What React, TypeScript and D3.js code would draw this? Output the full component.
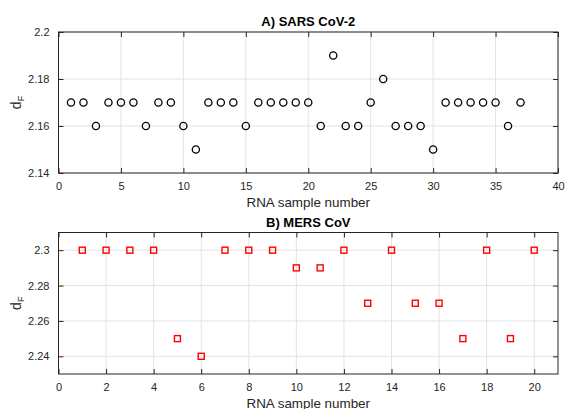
import React, { useEffect, useRef } from 'react';
import * as d3 from 'd3';

// SARS CoV-2 fractal dimension per sample
const sarsSamples = d3.range(1, 38);
const sarsValues = [
  2.17, 2.17, 2.16, 2.17, 2.17, 2.17, 2.16, 2.17, 2.17, 2.16,
  2.15, 2.17, 2.17, 2.17, 2.16, 2.17, 2.17, 2.17, 2.17, 2.17,
  2.16, 2.19, 2.16, 2.16, 2.17, 2.18, 2.16, 2.16, 2.16, 2.15,
  2.17, 2.17, 2.17, 2.17, 2.17, 2.16, 2.17,
];

// MERS CoV fractal dimension per sample
const mersSamples = d3.range(1, 21);
const mersValues = [
  2.3, 2.3, 2.3, 2.3, 2.25, 2.24, 2.3, 2.3, 2.3, 2.29,
  2.29, 2.3, 2.27, 2.3, 2.27, 2.27, 2.25, 2.3, 2.25, 2.3,
];

const sarsXTicks = [0, 5, 10, 15, 20, 25, 30, 35, 40];
const sarsYTicks = [2.14, 2.16, 2.18, 2.2];
const mersXTicks = [0, 2, 4, 6, 8, 10, 12, 14, 16, 18, 20];
const mersYTicks = [2.24, 2.26, 2.28, 2.3];

function App() {
  const ref = useRef<SVGSVGElement>(null);

  useEffect(() => {
    if (!ref.current) return;
    const svg = d3.select(ref.current);
    svg.selectAll('*').remove();

    const font = 'Liberation Sans, Arial, sans-serif';
    const left = 58.5;
    const right = 558;

    const panel = (
      top: number,
      bottom: number,
      xDomain: [number, number],
      yDomain: [number, number],
      xTicks: number[],
      yTicks: number[],
      xs: number[],
      ys: number[],
      title: string,
      marker: 'circle' | 'square',
    ) => {
      const x = d3.scaleLinear().domain(xDomain).range([left, right]);
      const y = d3.scaleLinear().domain(yDomain).range([bottom, top]);
      const g = svg.append('g');

      // grid
      g.selectAll('.gx')
        .data(xTicks)
        .enter()
        .append('line')
        .attr('x1', (d) => x(d))
        .attr('x2', (d) => x(d))
        .attr('y1', top)
        .attr('y2', bottom)
        .attr('stroke', '#e3e3e3')
        .attr('stroke-width', 1);
      g.selectAll('.gy')
        .data(yTicks)
        .enter()
        .append('line')
        .attr('x1', left)
        .attr('x2', right)
        .attr('y1', (d) => y(d))
        .attr('y2', (d) => y(d))
        .attr('stroke', '#e3e3e3')
        .attr('stroke-width', 1);

      // axes (ticks inward, mirrored)
      const tick = 5;
      const axisStyle = (a: d3.Selection<SVGGElement, unknown, null, undefined>) => {
        a.select('.domain').remove();
        a.selectAll('line').attr('stroke', '#262626');
        a.selectAll('text')
          .attr('fill', '#262626')
          .style('font-family', font)
          .style('font-size', '11px');
      };
      const bx = g.append('g').attr('transform', `translate(0,${bottom})`)
        .call(d3.axisBottom(x).tickValues(xTicks).tickFormat(d3.format('d')).tickSizeInner(-tick).tickSizeOuter(0).tickPadding(9));
      axisStyle(bx);
      const tx = g.append('g').attr('transform', `translate(0,${top})`)
        .call(d3.axisTop(x).tickValues(xTicks).tickFormat(() => '').tickSizeInner(-tick).tickSizeOuter(0));
      axisStyle(tx);
      const ly = g.append('g').attr('transform', `translate(${left},0)`)
        .call(d3.axisLeft(y).tickValues(yTicks).tickFormat((d) => String(+d)).tickSizeInner(-tick).tickSizeOuter(0).tickPadding(9));
      axisStyle(ly);
      const ry = g.append('g').attr('transform', `translate(${right},0)`)
        .call(d3.axisRight(y).tickValues(yTicks).tickFormat(() => '').tickSizeInner(-tick).tickSizeOuter(0));
      axisStyle(ry);

      g.append('rect')
        .attr('x', left)
        .attr('y', top)
        .attr('width', right - left)
        .attr('height', bottom - top)
        .attr('fill', 'none')
        .attr('stroke', '#262626')
        .attr('stroke-width', 1);

      // markers
      if (marker === 'circle') {
        g.selectAll('.pt')
          .data(xs)
          .enter()
          .append('circle')
          .attr('cx', (d) => x(d))
          .attr('cy', (_, i) => y(ys[i]))
          .attr('r', 3.6)
          .attr('fill', 'none')
          .attr('stroke', '#000')
          .attr('stroke-width', 1.3);
      } else {
        const s = 6;
        g.selectAll('.pt')
          .data(xs)
          .enter()
          .append('rect')
          .attr('x', (d) => x(d) - s / 2)
          .attr('y', (_, i) => y(ys[i]) - s / 2)
          .attr('width', s)
          .attr('height', s)
          .attr('fill', 'none')
          .attr('stroke', '#ff0000')
          .attr('stroke-width', 1.4);
      }

      // title
      g.append('text')
        .attr('x', (left + right) / 2)
        .attr('y', top - 6)
        .attr('text-anchor', 'middle')
        .style('font-family', font)
        .style('font-size', '13px')
        .style('font-weight', 'bold')
        .attr('fill', '#000')
        .text(title);

      // x label
      g.append('text')
        .attr('x', (left + right) / 2)
        .attr('y', bottom + 33.5)
        .attr('text-anchor', 'middle')
        .style('font-family', font)
        .style('font-size', '13.4px')
        .attr('fill', '#262626')
        .text('RNA sample number');

      // y label
      const yl = g.append('text')
        .attr('transform', `translate(21,${(top + bottom) / 2}) rotate(-90)`)
        .attr('text-anchor', 'middle')
        .style('font-family', font)
        .style('font-size', '14px')
        .attr('fill', '#262626');
      yl.append('tspan').text('d');
      yl.append('tspan').attr('dy', 3).style('font-size', '9px').text('F');
    };

    panel(32, 173, [0, 40], [2.14, 2.2], sarsXTicks, sarsYTicks, sarsSamples, sarsValues, 'A) SARS CoV-2', 'circle');
    panel(232.5, 374, [0, 21], [2.23, 2.31], mersXTicks, mersYTicks, mersSamples, mersValues, 'B) MERS CoV', 'square');
  }, []);

  return (
    <svg
      ref={ref}
      width={566}
      height={409}
      style={{ position: 'absolute', left: 0, top: 0, background: '#fff' }}
    />
  );
}

export default App;
